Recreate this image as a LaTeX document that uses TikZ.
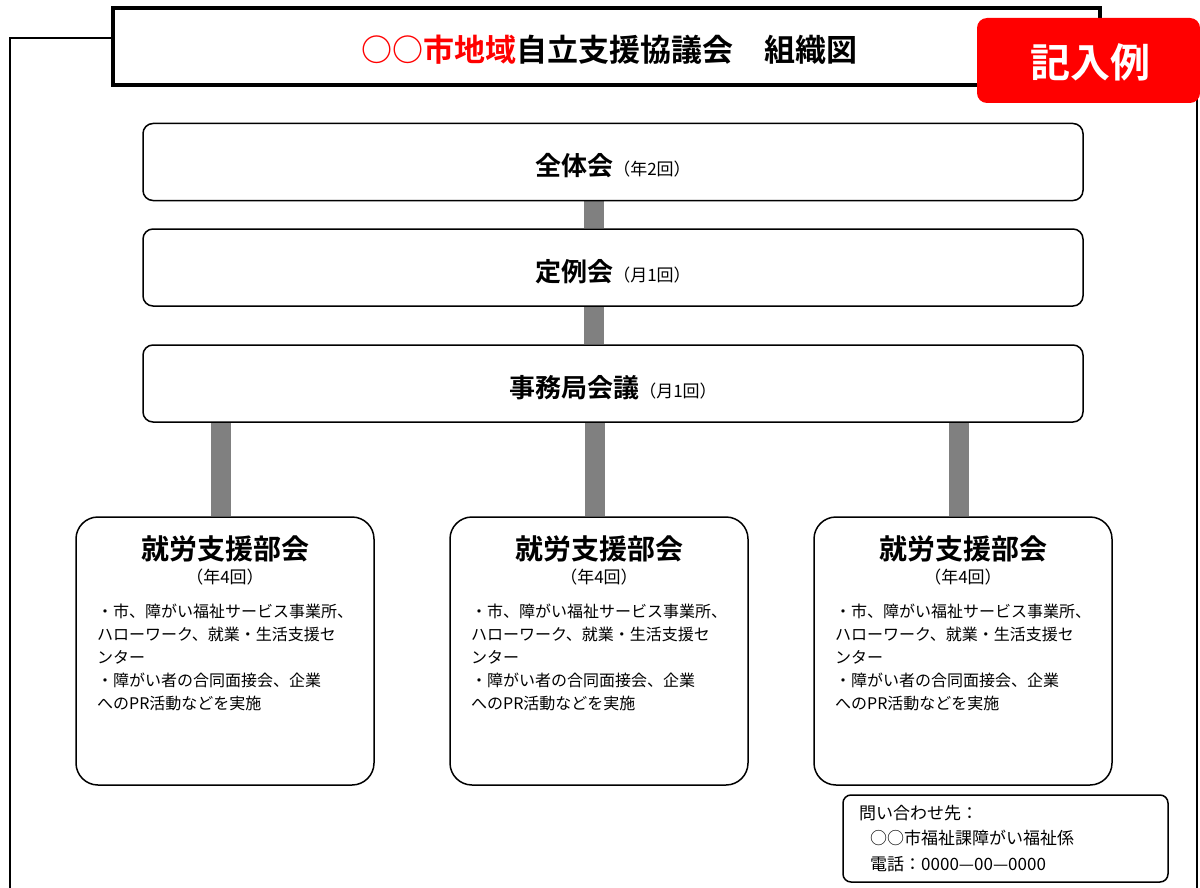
\documentclass[tikz,border=0pt]{standalone}
\usepackage{fontspec}
\setmainfont{Noto Sans CJK JP}[BoldFont={Noto Sans CJK JP Bold}]
\usetikzlibrary{backgrounds}
\definecolor{badgered}{RGB}{255,0,0}
\definecolor{conngray}{RGB}{128,128,128}
\tikzset{
  framelines/.style={draw=black, line width=2.2pt},
  titlebox/.style={draw=black, line width=4pt, fill=white, minimum width=987pt, minimum height=77pt, inner sep=0pt},
  badge/.style={fill=badgered, rounded corners=10pt, minimum width=223pt, minimum height=85pt, inner sep=0pt},
  mainbox/.style={draw=black, line width=1.5pt, rounded corners=10pt, fill=white, minimum width=940pt, minimum height=77pt, inner sep=0pt},
  maintext/.style={inner sep=0pt, yshift=-4pt},
  subbox/.style={draw=black, line width=1.5pt, rounded corners=22pt, fill=white, minimum width=298pt, minimum height=268pt, inner sep=0pt},
  contactbox/.style={draw=black, line width=1.5pt, rounded corners=8pt, fill=white, minimum width=325pt, minimum height=87pt, inner sep=0pt},
  conn/.style={draw=conngray, line width=20pt},
  subtitle/.style={font=\fontsize{28}{32}\selectfont\bfseries, inner sep=0pt},
  freq/.style={font=\fontsize{17}{20}\selectfont, inner sep=0pt},
  body/.style={font=\fontsize{16}{23}\selectfont, align=left, inner sep=0pt, anchor=north west},
  contacttext/.style={font=\fontsize{17}{25.5}\selectfont, align=left, inner sep=0pt, anchor=north west},
}
\newcommand{\bigb}[1]{{\fontsize{26}{30}\selectfont\bfseries #1}}
\newcommand{\smallp}[1]{{\fontsize{17}{20}\selectfont #1}}
\newcommand{\bodytext}{・市、障がい福祉サービス事業所、\\ハローワーク、就業・生活支援セ\\ンター\\・障がい者の合同面接会、企業\\へのPR活動などを実施}
\begin{document}
\begin{tikzpicture}[x=1pt,y=-1pt]
\useasboundingbox (0,0) rectangle (1200,888);
% outer frame
\draw[framelines] (10,900) -- (10,38) -- (1197,38) -- (1197,900);
% title
\node[titlebox] (title) at (606.5,46.5) {};
\node[inner sep=0pt, font=\fontsize{31}{36}\selectfont\bfseries] (titletext) at (609,50)
  {\textcolor{badgered}{○○市地域}自立支援協議会　組織図};
% badge
\node[badge] (badge) at (1088.5,60.5) {};
\node[inner sep=0pt, text=white, font=\fontsize{40}{44}\selectfont\bfseries] (badgetext) at (1090,62) {記入例};
% main boxes
\node[mainbox] (zentai) at (613,162) {};
\node[mainbox] (teirei) at (613,267.5) {};
\node[mainbox] (jimu) at (613,383.5) {};
\node[maintext] (zentaitext) at (zentai.center) {\bigb{全体会}\smallp{（年2回）}};
\node[maintext] (teireitext) at (teirei.center) {\bigb{定例会}\smallp{（月1回）}};
\node[maintext] (jimutext) at (jimu.center) {\bigb{事務局会議}\smallp{（月1回）}};
% sub boxes
\node[subbox] (subA) at (225,651) {};
\node[subbox] (subB) at (599,651) {};
\node[subbox] (subC) at (963,651) {};
\node[subtitle] (tA) at (225,549) {就労支援部会};
\node[subtitle] (tB) at (599,549) {就労支援部会};
\node[subtitle] (tC) at (963,549) {就労支援部会};
\node[freq] (fA) at (225,577) {（年4回）};
\node[freq] (fB) at (599,577) {（年4回）};
\node[freq] (fC) at (963,577) {（年4回）};
\node[body] (bA) at (97,604) {\bodytext};
\node[body] (bB) at (471,604) {\bodytext};
\node[body] (bC) at (835,604) {\bodytext};
% contact
\node[contactbox] (contact) at (1005.5,838.5) {};
\node[contacttext] (ctext) at (859,805) {問い合わせ先：\\\hspace{11pt}○○市福祉課障がい福祉係\\\hspace{11pt}電話：0000—00—0000};
% connectors
\begin{scope}[on background layer]
\draw[conn] ([xshift=-19pt]zentai.south) -- ([xshift=-19pt]teirei.north);
\draw[conn] ([xshift=-19pt]teirei.south) -- ([xshift=-19pt]jimu.north);
\draw[conn] ([xshift=-4pt]subA.north |- jimu.south) -- ([xshift=-4pt]subA.north);
\draw[conn] ([xshift=-4pt]subB.north |- jimu.south) -- ([xshift=-4pt]subB.north);
\draw[conn] ([xshift=-4pt]subC.north |- jimu.south) -- ([xshift=-4pt]subC.north);
\end{scope}
\end{tikzpicture}
\end{document}
